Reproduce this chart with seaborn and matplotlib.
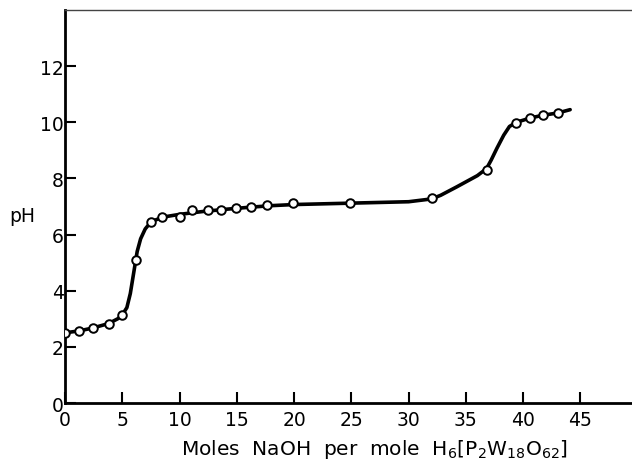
import matplotlib
matplotlib.use("Agg")
import matplotlib.pyplot as plt
import seaborn as sns
import pandas as pd

# Measured titration points (moles NaOH per mole, pH)
naoh_points = [0.0, 1.25, 2.4, 3.8, 5.0, 6.2, 7.5, 8.5, 10.0, 11.1, 12.5, 13.6,
               14.9, 16.2, 17.6, 19.9, 24.9, 32.0, 36.8, 39.4, 40.6, 41.7, 43.0]
ph_points = [2.50, 2.57, 2.68, 2.82, 3.14, 5.10, 6.45, 6.64, 6.64, 6.86, 6.86, 6.86,
             6.96, 7.00, 7.04, 7.14, 7.14, 7.30, 8.30, 9.98, 10.17, 10.25, 10.32]

# Hand-drawn smooth titration curve
naoh_curve = [0.0, 1.25, 2.4, 3.8, 4.6, 5.0, 5.4, 5.7, 5.9, 6.1, 6.3, 6.6, 7.0, 7.5,
              8.5, 10.0, 12.0, 14.0, 16.0, 18.0, 20.0, 25.0, 30.0, 32.0, 32.8, 34.2,
              36.0, 36.8, 37.2, 37.7, 38.3, 38.8, 39.4, 40.6, 41.7, 43.0, 44.1]
ph_curve = [2.50, 2.57, 2.67, 2.83, 3.00, 3.14, 3.40, 3.90, 4.40, 4.90, 5.40, 5.85, 6.20, 6.45,
            6.62, 6.72, 6.82, 6.90, 6.97, 7.03, 7.07, 7.12, 7.17, 7.27, 7.40, 7.70,
            8.10, 8.35, 8.65, 9.07, 9.54, 9.85, 10.00, 10.15, 10.25, 10.33, 10.45]

x_ticks = [0, 5, 10, 15, 20, 25, 30, 35, 40, 45]
y_ticks = [0, 2, 4, 6, 8, 10, 12]

sns.set_theme(style="white")
plt.rcParams['font.family'] = ['DejaVu Sans']

fig = plt.figure(figsize=(6.32, 4.64), dpi=100)
ax = fig.add_axes([0.1029, 0.1293, 0.8971, 0.8470])

curve = pd.DataFrame({"x": naoh_curve, "y": ph_curve})
pts = pd.DataFrame({"x": naoh_points, "y": ph_points})

sns.lineplot(data=curve, x="x", y="y", ax=ax, color="black", linewidth=2.6,
             sort=False, estimator=None)
sns.scatterplot(data=pts, x="x", y="y", ax=ax, s=38, facecolor="white",
                edgecolor="black", linewidth=1.4, zorder=5)

ax.set_xlim(0, 49.5)
ax.set_ylim(0, 14)
ax.set_xticks(x_ticks)
ax.set_yticks(y_ticks)
ax.set_xticklabels([str(t) for t in x_ticks], fontsize=13.5, color="black")
ax.set_yticklabels([str(t) for t in y_ticks], fontsize=13.5, color="black")
ax.tick_params(axis="both", direction="in", length=8, width=1.5, color="black",
               left=True, bottom=True)
ax.tick_params(axis="x", pad=5)
ax.tick_params(axis="y", pad=1)

for side in ["left", "bottom"]:
    ax.spines[side].set_color("black")
    ax.spines[side].set_linewidth(2.0)
ax.spines["top"].set_color("#444444")
ax.spines["top"].set_linewidth(1.0)
ax.spines["right"].set_visible(False)

ax.set_xlabel(r"Moles  NaOH  per  mole  H$_6$[P$_2$W$_{18}$O$_{62}$]", fontsize=14.5,
              color="black", va="center")
ax.xaxis.set_label_coords(0.545, -0.115)
ax.set_ylabel("pH", rotation=0, fontsize=13.5, color="black", va="center")
ax.yaxis.set_label_coords(-0.076, 0.476)

fig.savefig("out.png", dpi=100)
